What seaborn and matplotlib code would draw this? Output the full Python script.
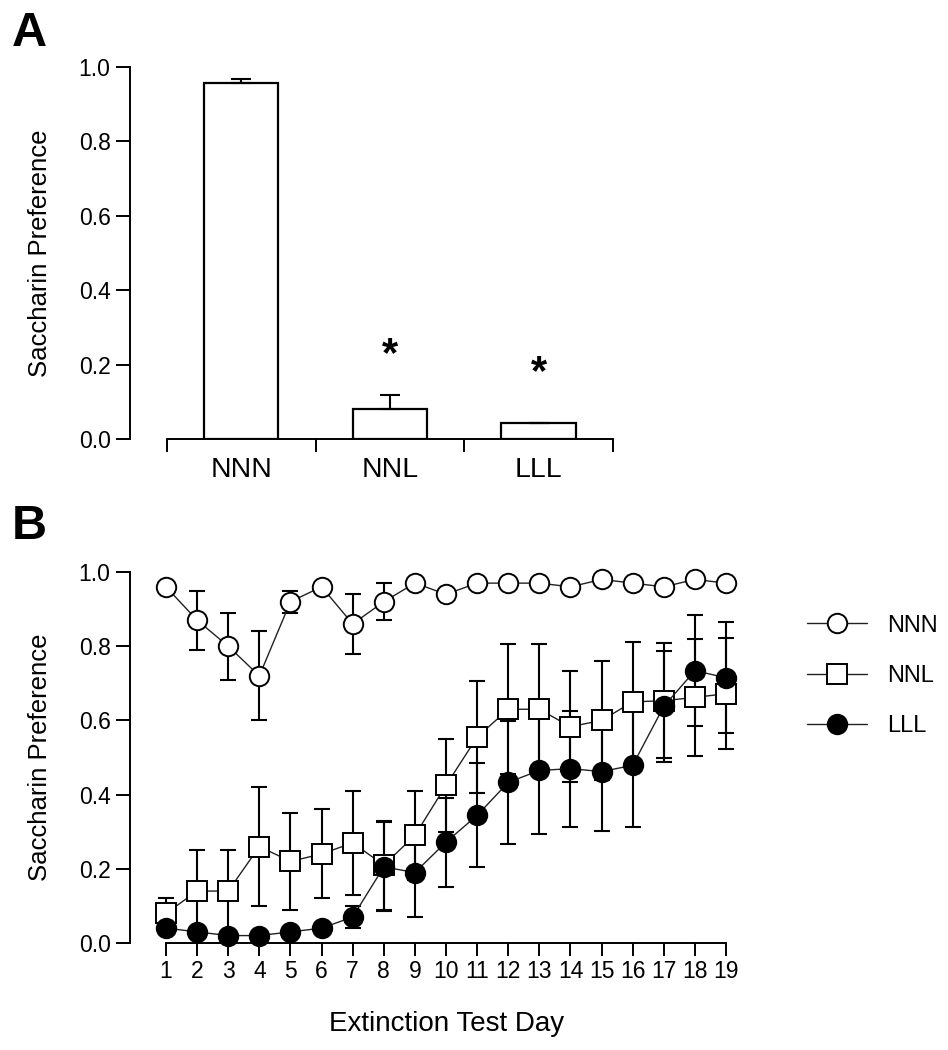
import numpy as np
import matplotlib
matplotlib.use("Agg")
import matplotlib.pyplot as plt
import seaborn as sns

# panel A: overall preference per group
groups = ["NNN", "NNL", "LLL"]
bar_mean = [0.958, 0.081, 0.043]
bar_sem = [0.009, 0.038, 0.0]
star_y = [None, 0.225, 0.177]

# panel B: extinction test days
days = list(range(1, 20))
nnn_mean = [0.96, 0.87, 0.80, 0.72, 0.92, 0.96, 0.86, 0.92, 0.97, 0.94,
            0.97, 0.97, 0.97, 0.96, 0.98, 0.97, 0.96, 0.98, 0.97]
nnn_sem = [0.01, 0.08, 0.09, 0.12, 0.03, 0.01, 0.08, 0.05, 0.01, 0.01,
           0.01, 0.01, 0.01, 0.01, 0.01, 0.01, 0.01, 0.01, 0.01]
nnl_mean = [0.08, 0.14, 0.14, 0.26, 0.22, 0.24, 0.27, 0.21, 0.29, 0.425,
            0.555, 0.63, 0.63, 0.583, 0.60, 0.65, 0.653, 0.662, 0.672]
nnl_sem = [0.04, 0.11, 0.11, 0.16, 0.13, 0.12, 0.14, 0.12, 0.12, 0.125,
           0.15, 0.175, 0.175, 0.15, 0.16, 0.16, 0.155, 0.157, 0.15]
lll_mean = [0.04, 0.03, 0.02, 0.02, 0.03, 0.04, 0.07, 0.205, 0.19, 0.272,
            0.344, 0.433, 0.465, 0.47, 0.462, 0.479, 0.638, 0.734, 0.715]
lll_sem = [0.01, 0.01, 0.01, 0.01, 0.01, 0.01, 0.03, 0.12, 0.12, 0.12,
           0.14, 0.165, 0.17, 0.156, 0.16, 0.166, 0.15, 0.15, 0.15]

sns.set_style("ticks")
plt.rcParams["font.family"] = ["Liberation Sans", "DejaVu Sans"]
plt.rcParams.update({"text.color": "black", "axes.labelcolor": "black",
                     "xtick.color": "black", "ytick.color": "black",
                     "axes.edgecolor": "black"})

W, H = 948, 1050
fig = plt.figure(figsize=(W / 100, H / 100), dpi=100)
ax_a = fig.add_axes([130 / W, 611 / H, 486 / W, 372 / H])
ax_b = fig.add_axes([130 / W, 107 / H, 611.6 / W, 371 / H])

# ---- panel A ----
sns.barplot(x=groups, y=bar_mean, order=groups, ax=ax_a, color="white",
            edgecolor="black", linewidth=1.6, width=0.5, errorbar=None)
ax_a.errorbar(range(3), bar_mean, yerr=[np.zeros(3), bar_sem], fmt="none",
              ecolor="black", elinewidth=1.5, capsize=7, capthick=1.5, zorder=3)
for i, y in enumerate(star_y):
    if y is not None:
        ax_a.text(i, y, "*", ha="center", va="center", fontsize=30, fontweight="bold")

ax_a.set_xlim(-0.747, 2.52)
ax_a.set_ylim(0, 1.0)
ax_a.set_xticks([-0.5, 0.5, 1.5, 2.5])
ax_a.set_xticklabels([])
ax_a.set_xticks([0, 1, 2], minor=True)
ax_a.set_xticklabels(groups, minor=True, fontsize=20.5)
ax_a.tick_params(axis="x", which="minor", length=0, pad=13)
ax_a.tick_params(axis="x", which="major", length=9, width=1.4)
ax_a.set_xlabel("")

# ---- panel B ----
series = [("NNN", nnn_mean, nnn_sem, "o", "white"),
          ("NNL", nnl_mean, nnl_sem, "s", "white"),
          ("LLL", lll_mean, lll_sem, "o", "black")]
for k, (name, m, s, mk, fc) in enumerate(series):
    ax_b.errorbar(days, m, yerr=s, fmt="none", ecolor="black", elinewidth=1.5,
                  capsize=6, capthick=1.5, zorder=2, clip_on=False)
    sns.lineplot(x=days, y=m, ax=ax_b, color="#222222", lw=1.0, marker=mk,
                 markersize=14, markerfacecolor=fc, markeredgecolor="black",
                 markeredgewidth=1.4, label=name, zorder=3 + k, errorbar=None,
                 clip_on=False)

ax_b.set_xlim(-0.157, 19.5)
ax_b.set_ylim(0, 1.0)
ax_b.set_xticks(days)
ax_b.set_xticklabels([str(d) for d in days], fontsize=16.5)
ax_b.tick_params(axis="x", length=9, width=1.4, pad=3)
ax_b.set_xlabel("Extinction Test Day", fontsize=20)
ax_b.xaxis.set_label_coords(0.518, -0.183)
ax_b.legend(loc="center left", bbox_to_anchor=(807 / W, 1 - 676 / H),
            bbox_transform=fig.transFigure, frameon=False, fontsize=17,
            handlelength=2.55, handletextpad=0.85, labelspacing=1.2,
            borderpad=0, borderaxespad=0)

for ax, lx in ((ax_a, (52 - 130) / 486), (ax_b, (52 - 130) / 611.6)):
    ax.set_yticks(np.arange(0, 1.01, 0.2))
    ax.set_yticklabels([f"{v:.1f}" for v in np.arange(0, 1.01, 0.2)], fontsize=16.5)
    ax.tick_params(axis="y", length=10, width=1.4, pad=4)
    ax.set_ylabel("Saccharin Preference", fontsize=18.5)
    ax.yaxis.set_label_coords(lx, 0.5)
    sns.despine(ax=ax)
    for sp in ("left", "bottom"):
        ax.spines[sp].set_linewidth(1.4)
    ax.spines["left"].set_bounds(0, 1)

ax_a.spines["bottom"].set_bounds(-0.5, 2.5)
ax_b.spines["bottom"].set_bounds(1, 19)

fig.text(12 / W, 1 - 11 / H, "A", fontsize=35, fontweight="bold", va="top", ha="left")
fig.text(12 / W, 1 - 504 / H, "B", fontsize=35, fontweight="bold", va="top", ha="left")

fig.savefig("out.png", dpi=100, facecolor="white")
